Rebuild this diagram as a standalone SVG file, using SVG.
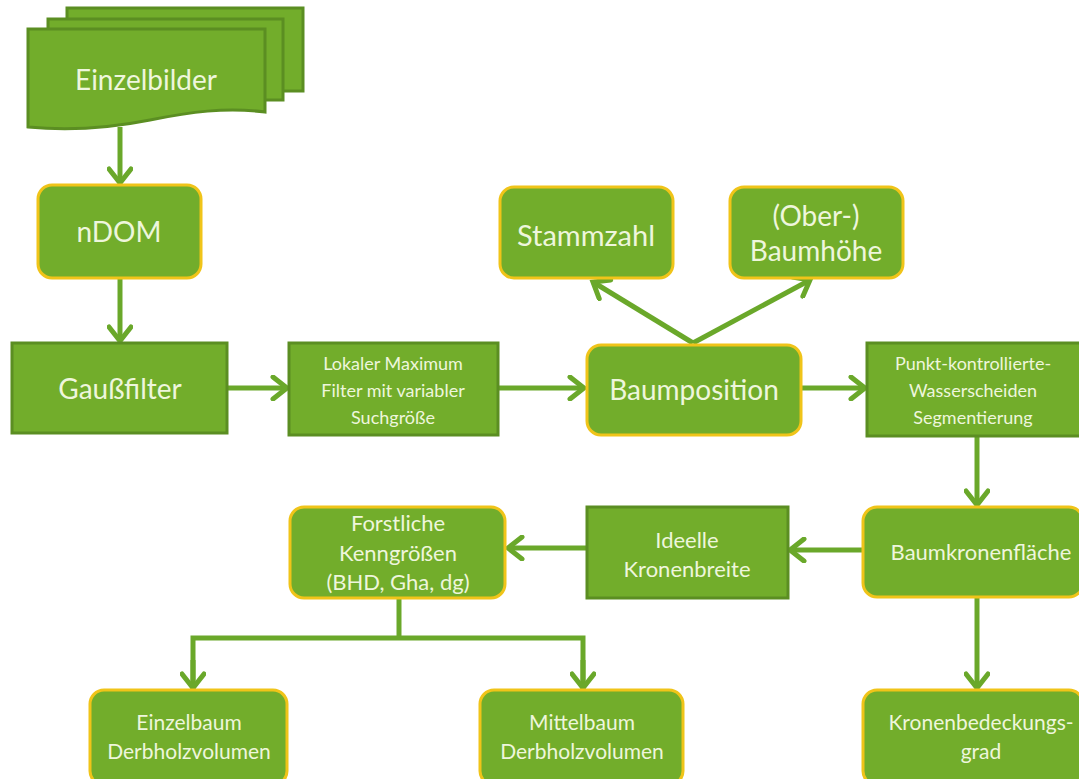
<svg xmlns="http://www.w3.org/2000/svg" width="1079" height="779" viewBox="0 0 1079 779">
<defs>
<style>
.sq{fill:#72ad2b;stroke:#5b8e22;stroke-width:3}
.rd{fill:#72ad2b;stroke:#f0c419;stroke-width:3}
.t{fill:#eef6dc;font-family:Lato,"Open Sans",sans-serif;text-anchor:middle}
.c{fill:none;stroke:#6aa82a;stroke-width:5;stroke-linecap:butt;stroke-linejoin:miter}
</style>
<marker id="ah" viewBox="0 0 26 26" refX="22" refY="13" markerWidth="26" markerHeight="26" markerUnits="userSpaceOnUse" orient="auto">
<path d="M8,2 L22,13 L8,24" fill="none" stroke="#6aa82a" stroke-width="5" stroke-linecap="round" stroke-linejoin="miter"/>
</marker>
</defs>
<rect width="1079" height="779" fill="#ffffff"/>
<g id="connectors">
<line class="c" x1="120" y1="127" x2="120" y2="183" marker-end="url(#ah)"/>
<line class="c" x1="120" y1="278" x2="120" y2="341" marker-end="url(#ah)"/>
<line class="c" x1="227" y1="388" x2="287" y2="388" marker-end="url(#ah)"/>
<line class="c" x1="498" y1="388" x2="584" y2="388" marker-end="url(#ah)"/>
<line class="c" x1="693" y1="343" x2="593" y2="282" marker-end="url(#ah)"/>
<line class="c" x1="693" y1="343" x2="810" y2="280" marker-end="url(#ah)"/>
<line class="c" x1="800" y1="388" x2="865" y2="388" marker-end="url(#ah)"/>
<line class="c" x1="977" y1="436" x2="977" y2="505" marker-end="url(#ah)"/>
<line class="c" x1="863" y1="550" x2="790" y2="550" marker-end="url(#ah)"/>
<line class="c" x1="586" y1="548" x2="508" y2="548" marker-end="url(#ah)"/>
<line class="c" x1="977" y1="597" x2="977" y2="688" marker-end="url(#ah)"/>
<polyline class="c" points="399,598 399,638"/>
<polyline class="c" points="193,690 193,638 583,638 583,690"/>
<line class="c" x1="193" y1="660" x2="193" y2="688" marker-end="url(#ah)"/>
<line class="c" x1="583" y1="660" x2="583" y2="688" marker-end="url(#ah)"/>
</g>
<g id="einzelbilder">
<rect class="sq" x="67" y="8" width="236" height="83"/>
<rect class="sq" x="48" y="19" width="235" height="81"/>
<path class="sq" d="M28,29 H265 V112 C225,107 190,112 150,120 C110,128 70,131 28,127 Z"/>
<text class="t" x="146" y="90" font-size="28">Einzelbilder</text>
</g>
<g id="ndom">
<rect class="rd" x="38" y="185" width="163" height="93" rx="14"/>
<text class="t" x="119" y="242" font-size="28">nDOM</text>
</g>
<g id="gaussfilter">
<rect class="sq" x="12" y="343" width="215" height="90"/>
<text class="t" x="120" y="399" font-size="28">Gaußfilter</text>
</g>
<g id="lokaler">
<rect class="sq" x="289" y="343" width="209" height="92"/>
<text class="t" x="393" y="370" font-size="18">Lokaler Maximum</text>
<text class="t" x="393" y="397" font-size="18">Filter mit variabler</text>
<text class="t" x="393" y="424" font-size="18">Suchgröße</text>
</g>
<g id="baumposition">
<rect class="rd" x="587" y="345" width="214" height="90" rx="14"/>
<text class="t" x="694" y="400" font-size="28">Baumposition</text>
</g>
<g id="stammzahl">
<rect class="rd" x="500" y="187" width="173" height="91" rx="14"/>
<text class="t" x="586" y="246" font-size="29">Stammzahl</text>
</g>
<g id="baumhoehe">
<rect class="rd" x="730" y="187" width="173" height="91" rx="14"/>
<text class="t" x="816" y="226" font-size="28">(Ober-)</text>
<text class="t" x="816" y="261" font-size="28">Baumhöhe</text>
</g>
<g id="punkt">
<rect class="sq" x="867" y="343" width="214" height="93"/>
<text class="t" x="973" y="370" font-size="18">Punkt-kontrollierte-</text>
<text class="t" x="973" y="397" font-size="18">Wasserscheiden</text>
<text class="t" x="973" y="424" font-size="18">Segmentierung</text>
</g>
<g id="baumkronenflaeche">
<rect class="rd" x="863" y="507" width="220" height="90" rx="14"/>
<text class="t" x="981" y="560" font-size="22">Baumkronenfläche</text>
</g>
<g id="ideelle">
<rect class="sq" x="587" y="507" width="201" height="91"/>
<text class="t" x="687" y="548" font-size="22">Ideelle</text>
<text class="t" x="687" y="577" font-size="22">Kronenbreite</text>
</g>
<g id="forstliche">
<rect class="rd" x="290" y="507" width="215" height="91" rx="14"/>
<text class="t" x="398" y="531" font-size="22">Forstliche</text>
<text class="t" x="398" y="561" font-size="22">Kenngrößen</text>
<text class="t" x="398" y="590" font-size="22">(BHD, Gha, dg)</text>
</g>
<g id="einzelbaum">
<rect class="rd" x="90" y="690" width="197" height="95" rx="14"/>
<text class="t" x="189" y="730" font-size="21">Einzelbaum</text>
<text class="t" x="189" y="759" font-size="21">Derbholzvolumen</text>
</g>
<g id="mittelbaum">
<rect class="rd" x="480" y="690" width="203" height="95" rx="14"/>
<text class="t" x="582" y="730" font-size="21">Mittelbaum</text>
<text class="t" x="582" y="759" font-size="21">Derbholzvolumen</text>
</g>
<g id="kronenbedeckungsgrad">
<rect class="rd" x="863" y="690" width="220" height="95" rx="14"/>
<text class="t" x="981" y="730" font-size="21">Kronenbedeckungs-</text>
<text class="t" x="981" y="759" font-size="21">grad</text>
</g>
</svg>
